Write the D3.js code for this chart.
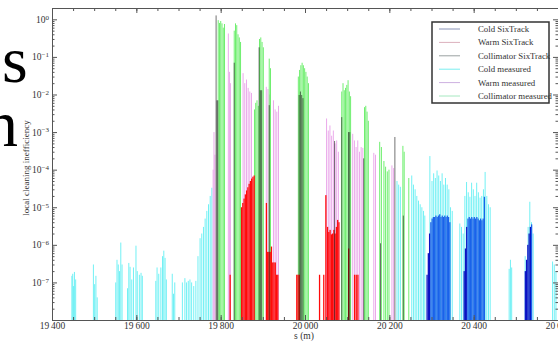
<!DOCTYPE html>
<html>
<head>
<meta charset="utf-8">
<script src="https://d3js.org/d3.v7.min.js"></script>
<style>
    body { margin: 0; background: #fff; }
    svg text { font-family: "Liberation Serif", "DejaVu Serif", serif; }
</style>
</head>
<body>
<div id="viz"></div>
<script type="text/javascript">

// [s (m), local cleaning inefficiency]
var coldMeasured = [
    [19446,1.5e-7],[19448,1.7e-7],[19450,8e-8],[19452,1.9e-7],[19455,1.2e-7],
    [19497,3e-7],[19500,9e-8],[19503,1.5e-7],[19506,4e-8],
    [19550,1e-7],[19553,4e-7],[19556,3e-7],[19559,2e-7],[19562,1.15e-6],[19565,3e-7],
    [19578,7e-8],[19581,3.3e-7],[19584,2.6e-7],[19588,1.2e-7],[19592,2.5e-7],[19598,9.5e-7],
    [19601,2e-7],[19606,1.6e-7],[19610,1.8e-7],[19613,1.5e-7],
    [19645,1.1e-7],[19648,2.5e-7],[19652,1.7e-7],[19657,2.5e-7],[19661,5e-7],[19664,7e-7],
    [19667,4.5e-7],[19670,1.2e-7],
    [19684,1.7e-7],[19687,5e-8],[19690,1e-7],
    [19708,1e-7],[19714,1.3e-7],[19718,1e-7],[19722,1.1e-7],[19726,1.2e-7],[19730,1e-7],[19735,8e-8],
    [19740,1.1e-7],[19745,5e-7],[19750,1.5e-6],[19754,2e-6],[19758,3e-6],[19762,5e-6],
    [19766,8e-6],[19770,1.2e-5],[19774,2e-5],[19778,3.3e-5],
    [20217,5e-5],[20221,4e-5],[20225,3.5e-5],
    [20252,7e-5],[20256,4e-5],[20260,3e-5],[20264,2e-5],[20268,1.5e-5],[20272,1.2e-5],
    [20276,1e-5],[20280,8e-6],[20283,6e-6],
    [20295,2.3e-4],[20300,5e-5],[20304,8e-5],[20308,6e-5],[20312,9.5e-5],[20316,7e-5],
    [20320,5e-5],[20324,8e-5],[20328,4e-5],[20332,6e-5],[20336,4e-5],[20340,3e-5],
    [20344,1e-5],[20348,8e-6],
    [20366,3.7e-6],[20370,3e-6],[20374,2e-6],
    [20378,2e-5],[20382,4.7e-5],[20386,2.5e-5],[20390,1.9e-5],[20394,4.5e-5],[20398,3e-5],
    [20402,2e-5],[20406,4.5e-5],[20410,2.5e-5],[20414,1.8e-5],[20418,2e-5],[20422,3e-5],
    [20426,8.7e-5],[20430,2e-5],[20434,1.2e-5],[20438,1e-5],
    [20483,2.3e-7],[20486,4e-7],[20489,2.5e-7],
    [20521,5e-7],[20528,3e-6],[20532,1.4e-5],[20536,4e-6],[20540,2e-6],
    [20586,3.6e-7],[20590,3e-7],[20594,2e-7]
];

var warmMeasured = [
    [19781,1e-4],[19783,1e-3],[19785,2.5e-4],
    [19817,0.42],[19820,0.04],[19822,0.02],
    [19852,0.037],[19856,0.02],[19860,0.025],[19864,0.015],[19868,0.012],[19872,0.011],
    [19907,0.016],[19911,0.014],[19915,0.01],
    [19924,0.007],[19928,0.004],[19932,0.0035],[19936,0.005],
    [20050,2.3e-3],[20054,1.1e-3],[20058,1.5e-3],[20062,8e-4],[20066,1.1e-3],[20070,5e-4],
    [20074,6e-4],[20078,3e-4],
    [20112,9e-4],[20116,6e-4],[20120,4e-4],[20124,6e-4],[20128,3e-4],[20132,4e-4],[20136,3.8e-4],
    [20162,2.8e-4],[20166,2.5e-4],
    [20205,1.3e-4],[20209,1.1e-4]
];

var collimatorMeasured = [
    [19793,0.95],[19796,0.8],[19799,0.9],[19802,0.78],[19805,0.6],[19808,0.75],
    [19831,0.5],[19834,0.78],[19837,0.7],[19840,0.4],[19843,0.33],[19846,0.25],
    [19879,0.004],[19882,0.006],[19885,0.007],[19888,0.005],[19891,0.3],[19894,0.33],
    [19897,0.25],[19900,0.18],
    [19914,0.09],[19917,0.05],
    [19983,0.03],[19986,0.045],[19989,0.06],[19992,0.07],[19995,0.06],[19998,0.05],
    [20001,0.04],[20004,0.03],[20007,0.02],
    [20086,0.012],[20089,0.02],[20092,0.013],[20095,0.015],[20098,0.018],[20101,0.024],
    [20104,0.012],[20107,0.009],
    [20140,4.6e-3],[20143,5e-3],[20146,3.5e-3],[20149,2e-3],
    [20176,5.5e-4],[20180,4e-4],
    [20186,1.7e-4],[20190,1.2e-4],[20194,9e-5],[20198,1e-4],
    [20231,4.3e-4],[20234,3e-4],
    [20245,6e-5]
];

var warmSixTrack = [
    [19821,1.6e-7],
    [19848,1e-5],[19851,1.3e-5],[19854,1.7e-5],[19857,2.2e-5],[19860,2.8e-5],[19863,3.4e-5],
    [19866,4.2e-5],[19869,5e-5],[19872,5.8e-5],[19875,6.5e-5],[19878,7e-5],
    [19907,1.3e-5],[19910,6.5e-7],[19913,6.5e-7],[19916,6.5e-7],[19919,9e-7],[19922,3.4e-7],
    [19925,3.4e-7],[19928,3.4e-7],[19931,1.6e-7],[19934,1.6e-7],
    [19979,1.6e-7],[19982,1.6e-7],[19985,1.6e-7],
    [20033,1.6e-7],
    [20043,1.6e-7],[20048,2.1e-5],[20052,3e-6],[20055,2.2e-6],[20058,2.5e-6],[20061,1.9e-6],
    [20064,2e-6],[20067,2.5e-6],[20070,2e-6],[20073,3e-6],[20076,4.6e-6],[20079,4e-6],
    [20102,8e-7],
    [20116,1.6e-7],[20120,1.6e-7],[20124,1.6e-7]
];

var coldSixTrack = [
    [20288,1.6e-7],[20291,6e-7],[20294,2e-6],[20297,4e-6],[20300,5e-6],[20303,5.5e-6],
    [20306,5.5e-6],[20309,6e-6],[20312,5.5e-6],[20315,6e-6],[20318,6.5e-6],[20321,5.5e-6],
    [20324,6e-6],[20327,5.5e-6],[20330,6e-6],[20333,5.5e-6],[20336,6e-6],[20339,5.5e-6],
    [20342,4e-6],
    [20376,2e-7],[20379,8e-7],[20382,3e-6],[20385,5e-6],[20388,5.5e-6],[20391,5e-6],
    [20394,5.5e-6],[20397,5e-6],[20400,5.5e-6],[20403,5e-6],[20406,5.5e-6],[20409,5e-6],
    [20412,4.5e-6],[20415,5e-6],[20418,4.5e-6],[20421,5e-6],[20424,1.9e-5],
    [20521,2e-7],[20524,4e-7],[20527,1e-6],[20530,2e-6],[20533,3e-6],[20536,3.5e-6]
];

var collimatorSixTrack = [
    [19788,1.27],[19790,7e-3],[19792,7e-3],
    [19831,0.07],
    [19890,0.18],[19893,0.013],[19896,0.013],
    [19914,0.0052],
    [19985,0.0097],[19988,0.012],[19991,0.0097],[19994,0.008],
    [20069,5.8e-4],
    [20086,2.5e-3],[20102,1e-3],[20105,1e-3],
    [20138,2e-4],
    [20178,1.1e-6],
    [20212,7.4e-4],
    [20232,6e-6]
];

var xTicks = [19400, 19600, 19800, 20000, 20200, 20400, 20600];
var yTicks = [1, 1e-1, 1e-2, 1e-3, 1e-4, 1e-5, 1e-6, 1e-7];
var legendLabels = ["Cold SixTrack", "Warm SixTrack", "Collimator SixTrack",
                    "Cold measured", "Warm measured", "Collimator measured"];
var legendColors = ["#8a94b8", "#dcb0bc", "#9aa2a2", "#7aeef0", "#cdb0e0", "#a6e8c0"];

var svg = d3.select("#viz")
    .append("svg")
    .attr("width", 558)
    .attr("height", 341);

// fragments of the surrounding page text
svg.append("text").attr("x", 2).attr("y", 82).attr("font-size", 66).text("s");
svg.append("text").attr("x", -15).attr("y", 146).attr("font-size", 66).text("n");

var x = d3.scaleLinear().domain([19400, 20600]).range([52, 558]);
var y = d3.scaleLog().domain([1e-8, 2]).range([320, 8]);

function drawBars(data, color, opacity, bin) {
    var bw = x(19400 + bin) - x(19400);
    svg.append("g").selectAll("rect")
        .data(data)
        .enter().append("rect")
        .attr("x", function(d) { return x(d[0]); })
        .attr("width", bw)
        .attr("y", function(d) { return y(d[1]); })
        .attr("height", function(d) { return y(1e-8) - y(d[1]); })
        .attr("fill", typeof color === "function" ? color : function() { return color; })
        .attr("fill-opacity", opacity);
}

drawBars(coldMeasured, "#6ef0f4", 1, 2.3);
drawBars(warmMeasured, "#eaa8ea", 1, 2.3);
drawBars(collimatorMeasured, "#6cee6c", 1, 2.3);
drawBars(warmSixTrack, "#ff0a0a", 1, 3);
drawBars(coldSixTrack, function(d) { return d[1] < 3.5e-6 ? "#0a12c4" : "#1a62ea"; }, 1, 3);
drawBars(collimatorSixTrack, "#111", 0.6, 2.3);

// axes
function styleAxis(g) {
    g.select(".domain").attr("stroke", "#555");
    g.selectAll(".tick line").attr("stroke", "#555");
    g.selectAll("text").attr("fill", "#333").style("font-size", "9.5px");
}

var minorX = d3.range(19400, 20601, 50);
var minorY = [];
for (var e = -8; e < 1; e++) {
    for (var m = 2; m < 10; m++) {
        if (m * Math.pow(10, e) < 2) minorY.push(m * Math.pow(10, e));
    }
}

svg.append("g").attr("transform", "translate(0,320)")
    .call(d3.axisBottom(x).tickValues(minorX).tickSize(-3).tickFormat(""))
    .call(styleAxis);
svg.append("g").attr("transform", "translate(0,8)")
    .call(d3.axisTop(x).tickValues(minorX).tickSize(-3).tickFormat(""))
    .call(styleAxis);

svg.append("g").attr("transform", "translate(0,320)")
    .call(d3.axisBottom(x).tickValues(xTicks).tickSize(-5).tickPadding(2)
        .tickFormat(function(d) { return String(d).slice(0, 2) + "\u2009" + String(d).slice(2); }))
    .call(styleAxis);
svg.append("g").attr("transform", "translate(0,8)")
    .call(d3.axisTop(x).tickValues(xTicks).tickSize(-5).tickFormat(""))
    .call(styleAxis);

svg.append("g").attr("transform", "translate(52,0)")
    .call(d3.axisLeft(y).tickValues(minorY).tickSize(-2.5).tickFormat(""))
    .call(styleAxis);
svg.append("g").attr("transform", "translate(558,0)")
    .call(d3.axisRight(y).tickValues(minorY).tickSize(-2.5).tickFormat(""))
    .call(styleAxis);

var yAxis = svg.append("g").attr("transform", "translate(52,0)")
    .call(d3.axisLeft(y).tickValues(yTicks).tickSize(-5).tickPadding(3).tickFormat(""))
    .call(styleAxis);
svg.append("g").attr("transform", "translate(558,0)")
    .call(d3.axisRight(y).tickValues(yTicks).tickSize(-5).tickFormat(""))
    .call(styleAxis);

yAxis.selectAll(".tick text").each(function(d) {
    var t = d3.select(this);
    var ex = Math.round(Math.log10(d));
    t.text("10");
    t.append("tspan").attr("dy", "-0.45em").style("font-size", "7px")
        .text(ex === 0 ? "0" : "\u2212" + Math.abs(ex));
});

svg.append("text")
    .attr("transform", "translate(29,168) rotate(-90)")
    .attr("text-anchor", "middle")
    .attr("font-size", 9)
    .attr("fill", "#333")
    .text("local cleaning inefficiency");

svg.append("text")
    .attr("x", 304).attr("y", 339)
    .attr("text-anchor", "middle")
    .attr("font-size", 9.5)
    .attr("fill", "#333")
    .text("s (m)");

// legend
var legend = svg.append("g").attr("transform", "translate(432,22)");
legend.append("rect")
    .attr("width", 117).attr("height", 81)
    .attr("fill", "#fff").attr("stroke", "#333").attr("stroke-width", 1.5);

var item = legend.selectAll("g.item")
    .data(legendLabels)
    .enter().append("g")
    .attr("class", "item")
    .attr("transform", function(d, i) { return "translate(0," + (7 + i * 13.4) + ")"; });

item.append("line")
    .attr("x1", 7).attr("x2", 28)
    .attr("stroke", function(d, i) { return legendColors[i]; })
    .attr("stroke-width", 1);

item.append("text")
    .attr("x", 46).attr("dy", "0.33em")
    .attr("font-size", 8.8)
    .attr("fill", "#333")
    .text(function(d) { return d; });

</script>
</body>
</html>
